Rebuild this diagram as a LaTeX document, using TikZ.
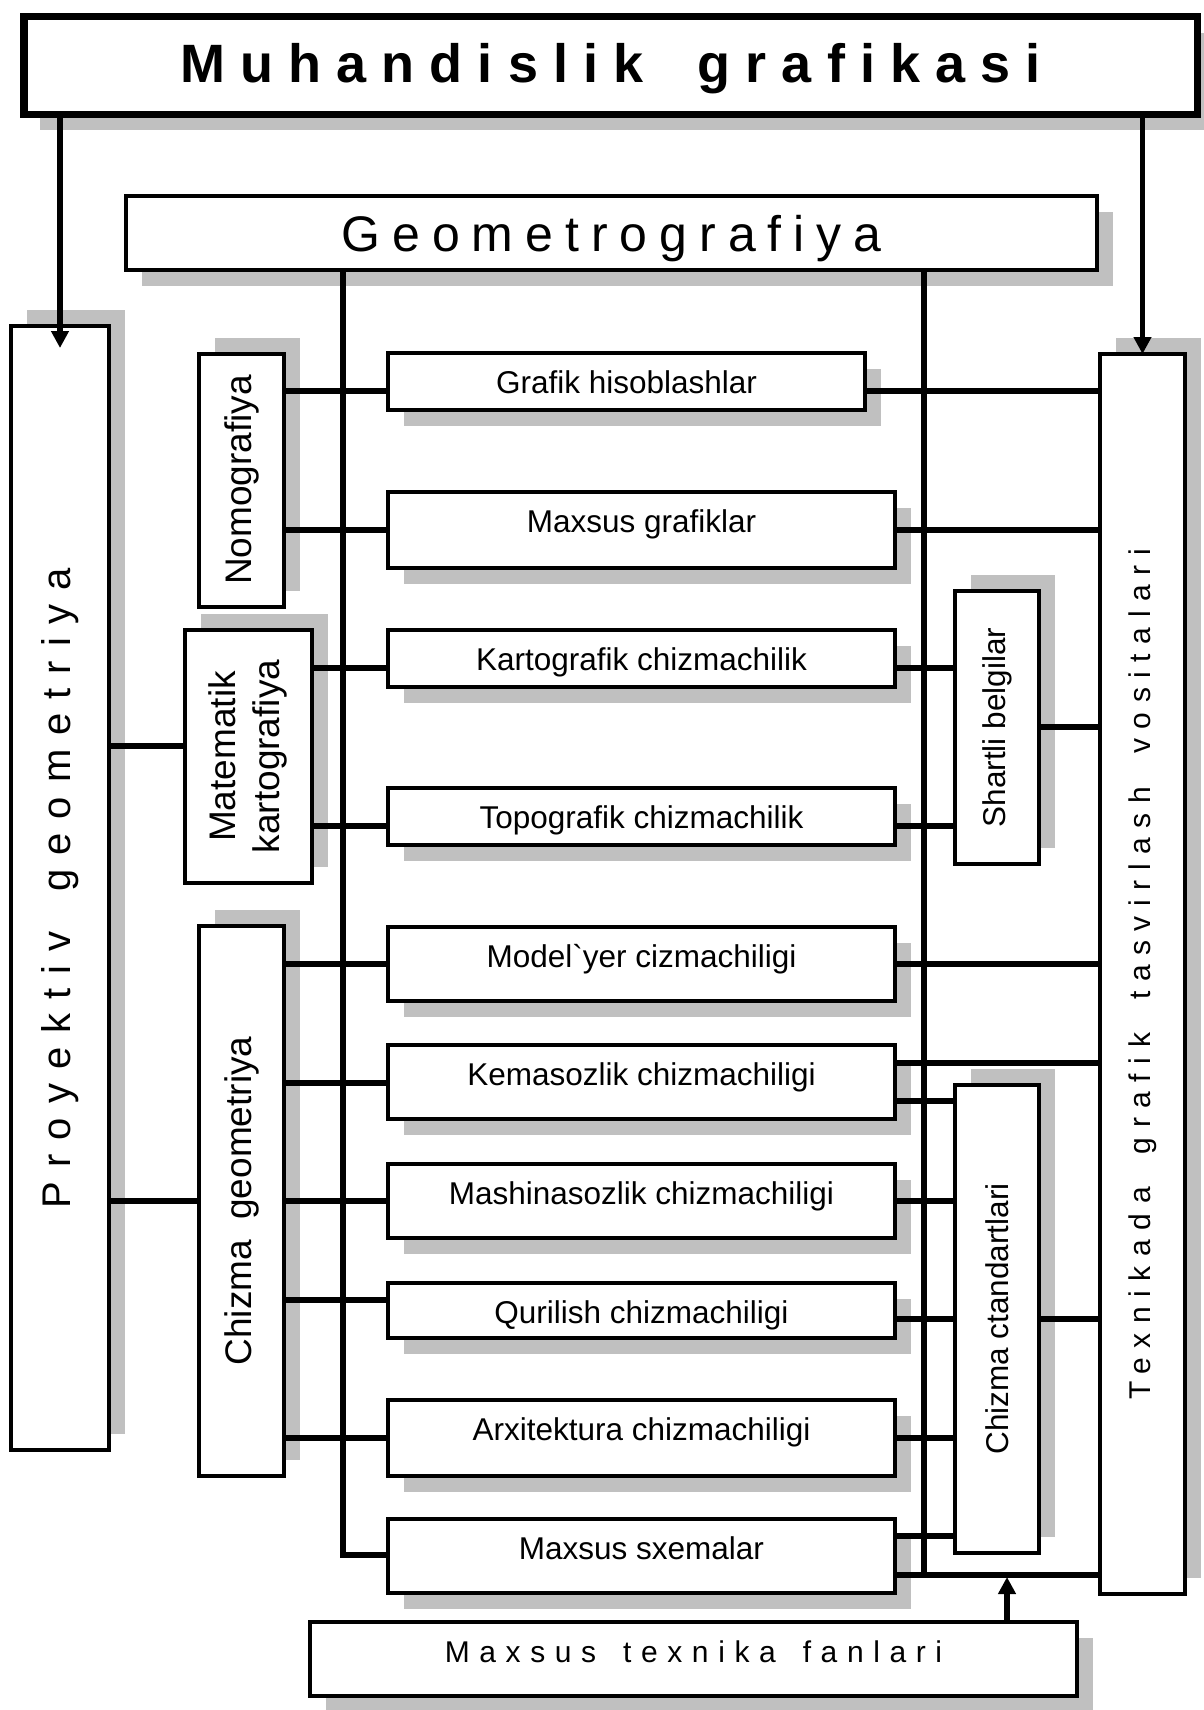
\documentclass[tikz,border=0pt]{standalone}
\usepackage{fontspec}
\setmainfont{Liberation Sans}
\usepackage{graphicx}
\usetikzlibrary{arrows.meta,shadows}
\definecolor{soya}{HTML}{C0C0C0}

\begin{document}
\begin{tikzpicture}[x=1pt, y=-1pt,
		kut/.style={draw, line width=4pt, fill=white, inner sep=0pt, outer sep=0pt},
		blok/.style={kut, drop shadow={shadow xshift=16pt, shadow yshift=-16pt, fill=soya, opacity=1}},
		vblok/.style={kut, drop shadow={shadow xshift=16pt, shadow yshift=16pt, fill=soya, opacity=1}},
		yozuv/.style={font=\fontsize{31.5}{38}\selectfont},
		katta/.style={font=\fontsize{37}{44}\selectfont},
		chiz/.style={line width=5.5pt},
		strelka/.style={chiz, -{Triangle[length=17pt,width=17pt]}}]
	\useasboundingbox (0,0) rectangle (1203,1710);

	% yuqori bloklar
	\node[blok, line width=7.5pt, minimum width=1173.5, minimum height=97.5,
		font=\fontsize{54}{60}\selectfont\bfseries\addfontfeatures{LetterSpace=28},
		text height=39pt, text depth=6pt] (muh) at (610.5,65.5) {Muhandislik\hspace{1em}grafikasi};
	\node[blok, minimum width=971, minimum height=74,
		font=\fontsize{50}{56}\selectfont\addfontfeatures{LetterSpace=24},
		text height=36pt, text depth=0pt] (geo) at (611.5,233) {Geometrografiya};

	% chap va o'ng ustunlar
	\node[vblok, minimum width=98, minimum height=1124,
		font=\fontsize{40}{46}\selectfont\addfontfeatures{LetterSpace=35}] (proj) at (60,888)
		{\rotatebox{90}{Proyektiv\hspace{1em}geometriya}};
	\node[vblok, minimum width=85, minimum height=1240,
		font=\fontsize{30}{36}\selectfont\addfontfeatures{LetterSpace=32}] (tex) at (1142.5,974)
		{\rotatebox{90}{Texnikada\hspace{1.1em}grafik\hspace{1.1em}tasvirlash\hspace{1.1em}vositalari}};

	\node[vblok, katta, minimum width=85, minimum height=253] (nomo) at (241.5,480) {\rotatebox{90}{Nomografiya}};
	\node[vblok, katta, minimum width=127, minimum height=253] (matk) at (248.5,756.5)
		{\rotatebox{90}{\begin{tabular}{@{}c@{}}Matematik\\kartografiya\end{tabular}}};
	\node[vblok, katta, minimum width=85, minimum height=550] (chg) at (241.5,1201)
		{\rotatebox{90}{Chizma\hspace{0.55em}geometriya}};
	\node[vblok, yozuv, minimum width=84, minimum height=273] (shartli) at (997,727.5) {\rotatebox{90}{Shartli belgilar}};
	\node[vblok, yozuv, minimum width=84, minimum height=468] (chst) at (997,1319) {\rotatebox{90}{Chizma ctandartlari}};

	% o'rtadagi bloklar
	\foreach \nm/\yt/\yb/\xr/\txt in {
			grafik/351/412/867/Grafik hisoblashlar,
			maxg/490/570/897/Maxsus grafiklar,
			karto/628/689/897/Kartografik chizmachilik,
			topo/786/847/897/Topografik chizmachilik,
			model/925/1003/897/Model\textasciigrave yer cizmachiligi,
			kema/1043/1121/897/Kemasozlik chizmachiligi,
			mash/1162/1240/897/Mashinasozlik chizmachiligi,
			quril/1281/1340/897/Qurilish chizmachiligi,
			arxi/1398/1478/897/Arxitektura chizmachiligi,
			sxema/1517/1595/897/Maxsus sxemalar}{
		\node[blok, anchor=north west, minimum width=\xr-390, minimum height=\yb-\yt-4] (\nm) at (388,\yt+2) {};
		\node[yozuv, anchor=base] (\nm-y) at ([yshift=-40pt]\nm.north) {\txt};
	}

	\node[blok, minimum width=767, minimum height=74,
		font=\fontsize{30}{36}\selectfont\addfontfeatures{LetterSpace=32},
		text height=21.5pt, text depth=15.5pt] (mtf) at (693.5,1659) {Maxsus\hspace{0.9em}texnika\hspace{0.9em}fanlari};

	% ulovchi chiziqlar
	\foreach \a/\b/\y in {nomo/grafik/391, nomo/maxg/530, grafik/tex/391, maxg/tex/530,
			matk/karto/668, matk/topo/826, karto/shartli/668, topo/shartli/826, shartli/tex/727,
			proj/matk/746, proj/chg/1201,
			chg/model/964, chg/kema/1083, chg/mash/1201, chg/quril/1300, chg/arxi/1438,
			model/tex/964, kema/tex/1063, kema/chst/1101, mash/chst/1201, quril/chst/1319,
			arxi/chst/1438, sxema/chst/1536, chst/tex/1319}
		\draw[chiz] (\a.east |- 0,\y) -- (\b.west |- 0,\y);

	\coordinate (bus1) at (343,1555);
	\coordinate (bus2) at (924,1575);
	\coordinate (uchi) at (1007,1577);
	\draw[chiz] (geo.south -| bus1) -- (bus1) -- (sxema.west |- bus1);
	\draw[chiz] (geo.south -| bus2) -- (bus2);
	\draw[chiz] (sxema.east |- bus2) -- (tex.west |- bus2);

	% strelkalar
	\draw[strelka] (muh.south -| proj.north) -- ([yshift=-22pt]proj.north);
	\draw[strelka] (muh.south -| tex.north) -- (tex.north);
	\draw[strelka] (mtf.north -| uchi) -- (uchi);
\end{tikzpicture}
\end{document}
